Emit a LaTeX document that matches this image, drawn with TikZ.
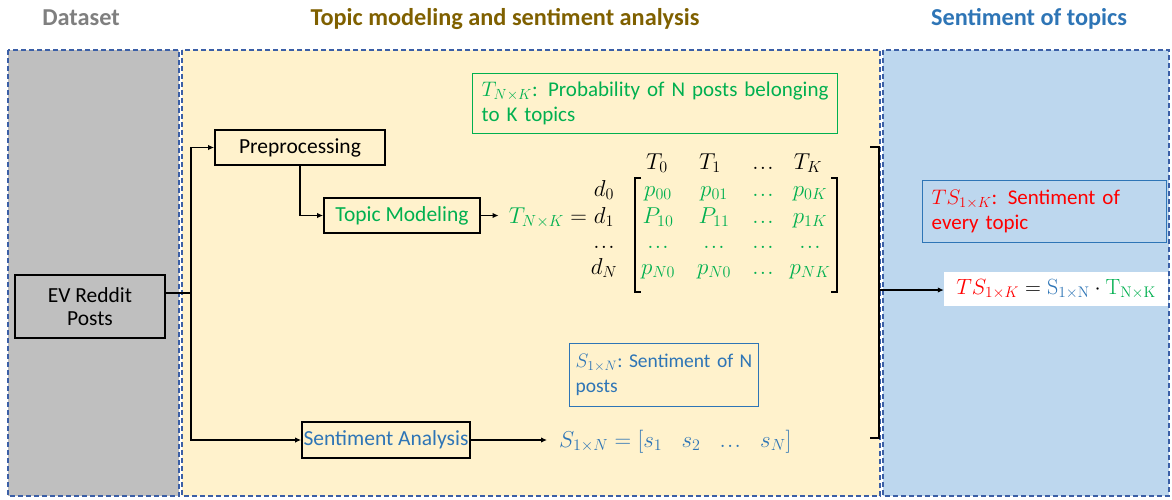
\documentclass[tikz,border=0pt]{standalone}
\usepackage{fix-cm}
\usepackage[no-math]{fontspec}
\setmainfont{Carlito}
\usetikzlibrary{arrows.meta}
\newcommand{\mydots}{.\mkern1mu.\mkern1mu.}
\definecolor{pgray}{HTML}{BFBFBF}
\definecolor{pyellow}{HTML}{FFF2CC}
\definecolor{pblue}{HTML}{BDD7EE}
\definecolor{dashblue}{HTML}{3B5FA6}
\definecolor{tgray}{HTML}{7F7F7F}
\definecolor{tbrown}{HTML}{7F6000}
\definecolor{tblue}{HTML}{2E75B6}
\definecolor{tgreen}{HTML}{00B050}
\definecolor{sblue}{HTML}{2E75B6}
\definecolor{tsred}{HTML}{FF0000}
\begin{document}
\begin{tikzpicture}[x=1pt,y=-1pt,
  panel/.style={draw=dashblue, line width=1.3pt, dash pattern=on 5pt off 3pt},
  title/.style={font=\fontsize{24.3}{28}\selectfont\bfseries, anchor=base, inner sep=0pt},
  body/.style={font=\fontsize{21.5}{25}\selectfont},
  notef/.style={font=\fontsize{21}{25}\selectfont},
  proc/.style={body, draw=black, line width=1.8pt, inner sep=0pt},
  note/.style={notef, line width=1.3pt, align=left, inner xsep=9pt, inner ysep=3pt, anchor=north west},
  mth/.style={font=\fontsize{23}{27}\selectfont, anchor=base, inner sep=0pt},
  ment/.style={mth, text=tgreen},
  conn/.style={draw=black, line width=1.3pt},
  arr/.style={conn, -{Latex[length=6pt,width=5.5pt]}}
]
\useasboundingbox (0,0) rectangle (1172,499);
% panels
\path[panel, fill=pgray] (8,50) rectangle (179,496);
\path[panel, fill=pyellow] (182,50) rectangle (880,496);
\path[panel, fill=pblue] (883,50) rectangle (1169,496);
% titles
\node[title, text=tgray] (tds) at (81,25) {Dataset};
\node[title, text=tbrown] (ttm) at (505,25) {Topic modeling and sentiment analysis};
\node[title, text=tblue] (tst) at (1029,25) {Sentiment of topics};
% process boxes
\node[proc, minimum width=150pt, minimum height=63pt, align=center] (ev) at (90,306.5) {EV Reddit\\[-2pt]Posts};
\node[proc, minimum width=170pt, minimum height=35pt] (pre) at (300,147.5) {Preprocessing};
\node[proc, minimum width=156pt, minimum height=35pt, text=tgreen] (tm) at (402,215.5) {Topic Modeling};
\node[proc, minimum width=168pt, minimum height=36pt, text=sblue] (sa) at (386,440) {Sentiment Analysis};
% notes
\node[note, draw=tgreen, text=tgreen, text width=347pt, minimum height=60pt] (gbox) at (472,73)
  {$T_{N\times K}$: Probability of N posts belonging\\to K topics};
\node[note, draw=sblue, text=sblue, font=\fontsize{19.5}{25}\selectfont, text width=177pt, inner xsep=6pt, minimum height=63pt] (bbox) at (569,343)
  {\mbox{$S_{1\times N}$:\ Sentiment of N}\\posts};
\node[note, draw=sblue, text=tsred, text width=226pt, minimum height=62pt] (rbox) at (922,180)
  {$TS_{1\times K}$: Sentiment of\\every topic};
\node[fill=white, minimum width=224pt, minimum height=34pt, inner sep=0pt, font=\fontsize{22}{26}\selectfont] (tsf) at (1056,289)
  {${\color{tsred}TS_{1\times K}} = {\color{sblue}\mathrm{S}_{\mathrm{1\times N}}} \cdot {\color{tgreen}\mathrm{T}_{\mathrm{N\times K}}}$};
% matrix equation
\node[mth, anchor=base east] (teq) at (587,223) {${\color{tgreen}T_{N\times K}} =$};
\foreach \x/\t [count=\c] in {657/T_0,710/T_1,763/\mydots,808/T_K}
  \node[mth] (h\c) at (\x,169) {$\t$};
\foreach \y/\t [count=\c] in {196/d_0,223/d_1,248/\mydots,274/d_N}
  \node[mth] (d\c) at (604,\y) {$\t$};
\foreach \r/\y/\a/\b/\cc/\d in {1/196/p_{00}/p_{01}/\mydots/p_{0K},
                               2/223/P_{10}/P_{11}/\mydots/p_{1K},
                               3/248/\mydots/\mydots/\mydots/\mydots,
                               4/274/p_{N0}/p_{N0}/\mydots/p_{NK}} {
  \node[ment] (e\r a) at (658,\y) {$\a$};
  \node[ment] (e\r b) at (714,\y) {$\b$};
  \node[ment] (e\r c) at (763,\y) {$\cc$};
  \node[ment] (e\r d) at (810,\y) {$\d$};
}
\draw[line width=1.1pt] (641,178) -- (635,178) -- (635,292) -- (641,292);
\draw[line width=1.1pt] (831,178) -- (837,178) -- (837,292) -- (831,292);
% sentiment vector
\node[mth, anchor=base west, text=sblue] (sf) at (559,447)
  {$S_{1\times N} = [s_1 \;\;\; s_2 \;\;\; \mydots \;\;\; s_N]$};
% connectors
\coordinate (split) at (191,293);
\draw[conn] (split -| ev.east) -- (split);
\draw[arr] (split) |- (pre.west);
\draw[arr] (split) |- (sa.west);
\draw[arr] (pre.south) |- (tm.west);
\draw[arr] (tm.east) -- ([xshift=-10pt]tm.east -| teq.west);
\draw[arr] (sa.east) -- ([xshift=-12pt]sa.east -| sf.west);
\coordinate (bt) at (870,147);
\coordinate (bb) at (870,438);
\coordinate (bm) at (879,290);
\draw[conn] (bt) -- ++(9,0) |- (bb);
\draw[arr] (bm) -- (bm -| tsf.west);
\end{tikzpicture}
\end{document}
